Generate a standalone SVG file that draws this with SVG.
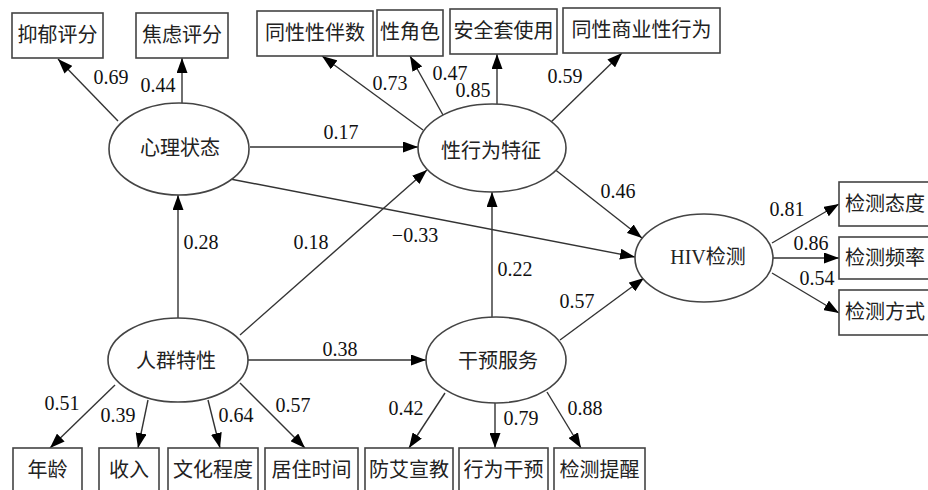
<svg xmlns="http://www.w3.org/2000/svg" width="928" height="490" viewBox="0 0 928 490">
<defs>
<marker id="ah" markerUnits="userSpaceOnUse" markerWidth="15" markerHeight="11" refX="15" refY="5.5" orient="auto">
<path d="M0,0 L15,5.5 L0,11 z" fill="#000"/>
</marker>
</defs>
<style>
.box{fill:#fff;stroke:#444;stroke-width:1.6}
.ell{fill:#fff;stroke:#444;stroke-width:1.6}
.t{font-family:"Noto Sans CJK SC","Liberation Serif",sans-serif;font-size:20px;fill:#222;text-anchor:middle}
.h{font-family:"Liberation Serif","Noto Sans CJK SC",serif;font-size:20px;fill:#222;text-anchor:middle}
.n{font-family:"Liberation Serif",serif;font-size:20px;fill:#111;text-anchor:middle}
.c line{stroke:#333;stroke-width:1.4;marker-end:url(#ah)}
</style>
<rect width="928" height="490" fill="#fff"/>
<g class="c" id="connectors">
<line x1="118" y1="121" x2="58" y2="59"/>
<line x1="182" y1="103" x2="182" y2="58"/>
<line x1="250" y1="147" x2="418" y2="147"/>
<line x1="225" y1="178" x2="635" y2="257"/>
<line x1="178" y1="318" x2="178" y2="195"/>
<line x1="240" y1="335" x2="427" y2="170"/>
<line x1="248" y1="360" x2="426" y2="360"/>
<line x1="492" y1="317" x2="492" y2="192"/>
<line x1="560" y1="340" x2="644" y2="278"/>
<line x1="553" y1="168" x2="642" y2="238"/>
<line x1="423" y1="130" x2="322" y2="56"/>
<line x1="443" y1="115" x2="410" y2="56"/>
<line x1="497" y1="104" x2="497" y2="54"/>
<line x1="548" y1="125" x2="622" y2="53"/>
<line x1="772" y1="243" x2="839" y2="204"/>
<line x1="773" y1="258" x2="839" y2="258"/>
<line x1="772" y1="273" x2="839" y2="313"/>
<line x1="115" y1="385" x2="50" y2="448"/>
<line x1="148" y1="400" x2="138" y2="448"/>
<line x1="208" y1="400" x2="220" y2="448"/>
<line x1="240" y1="383" x2="305" y2="448"/>
<line x1="445" y1="393" x2="409" y2="448"/>
<line x1="495" y1="403" x2="495" y2="448"/>
<line x1="547" y1="392" x2="581" y2="448"/>
</g>
<g id="labels">
<text class="n" x="111" y="84">0.69</text>
<text class="n" x="158" y="92">0.44</text>
<text class="n" x="390" y="90">0.73</text>
<text class="n" x="450" y="80">0.47</text>
<text class="n" x="473" y="97">0.85</text>
<text class="n" x="565" y="83">0.59</text>
<text class="n" x="341" y="139">0.17</text>
<text class="n" x="618" y="198">0.46</text>
<text class="n" x="787" y="216">0.81</text>
<text class="n" x="811" y="250">0.86</text>
<text class="n" x="817" y="285">0.54</text>
<text class="n" x="201" y="249">0.28</text>
<text class="n" x="311" y="249">0.18</text>
<text class="n" x="415" y="242">−0.33</text>
<text class="n" x="515" y="276">0.22</text>
<text class="n" x="577" y="308">0.57</text>
<text class="n" x="340" y="356">0.38</text>
<text class="n" x="62" y="410">0.51</text>
<text class="n" x="118" y="422">0.39</text>
<text class="n" x="236" y="422">0.64</text>
<text class="n" x="293" y="412">0.57</text>
<text class="n" x="406" y="415">0.42</text>
<text class="n" x="521" y="425">0.79</text>
<text class="n" x="585" y="415">0.88</text>
</g>
<g id="n-yiyu"><rect class="box" x="12" y="13" width="91" height="45"/><text class="t" x="57.5" y="42">抑郁评分</text></g>
<g id="n-jiaolv"><rect class="box" x="136" y="13" width="92" height="45"/><text class="t" x="182" y="42">焦虑评分</text></g>
<g id="n-xingban"><rect class="box" x="257" y="11" width="116" height="45"/><text class="t" x="315" y="40">同性性伴数</text></g>
<g id="n-juese"><rect class="box" x="377" y="10" width="66" height="46"/><text class="t" x="410" y="39">性角色</text></g>
<g id="n-anquantao"><rect class="box" x="450" y="9" width="107" height="45"/><text class="t" x="503.5" y="38">安全套使用</text></g>
<g id="n-shangye"><rect class="box" x="563" y="8" width="157" height="45"/><text class="t" x="641.5" y="37">同性商业性行为</text></g>
<g id="n-xinli"><ellipse class="ell" cx="179" cy="149" rx="70" ry="46"/><text class="t" x="180" y="155">心理状态</text></g>
<g id="n-xingwei"><ellipse class="ell" cx="492" cy="148" rx="74" ry="44"/><text class="t" x="491" y="158">性行为特征</text></g>
<g id="n-hiv"><ellipse class="ell" cx="704" cy="258" rx="69" ry="44"/><text class="h" x="708" y="264">HIV<tspan font-family="Noto Sans CJK SC" font-size="20">检测</tspan></text></g>
<g id="n-renqun"><ellipse class="ell" cx="178" cy="360" rx="70" ry="42"/><text class="t" x="176" y="368">人群特性</text></g>
<g id="n-ganyu"><ellipse class="ell" cx="496" cy="360" rx="70" ry="43"/><text class="t" x="498" y="368">干预服务</text></g>
<g id="n-taidu"><rect class="box" x="839" y="182" width="95" height="44"/><text class="t" x="885" y="211">检测态度</text></g>
<g id="n-pinlv"><rect class="box" x="839" y="237" width="95" height="42"/><text class="t" x="885" y="265">检测频率</text></g>
<g id="n-fangshi"><rect class="box" x="839" y="290" width="95" height="45"/><text class="t" x="885" y="319">检测方式</text></g>
<g id="n-nianling"><rect class="box" x="13" y="448" width="69" height="50"/><text class="t" x="47.5" y="477">年龄</text></g>
<g id="n-shouru"><rect class="box" x="99" y="448" width="60" height="50"/><text class="t" x="129" y="477">收入</text></g>
<g id="n-wenhua"><rect class="box" x="168" y="448" width="90" height="50"/><text class="t" x="213" y="477">文化程度</text></g>
<g id="n-juzhu"><rect class="box" x="265" y="448" width="93" height="50"/><text class="t" x="311.5" y="477">居住时间</text></g>
<g id="n-fangai"><rect class="box" x="365" y="448" width="88" height="50"/><text class="t" x="409" y="477">防艾宣教</text></g>
<g id="n-xingweiganyu"><rect class="box" x="459" y="448" width="89" height="50"/><text class="t" x="503.5" y="477">行为干预</text></g>
<g id="n-tixing"><rect class="box" x="554" y="448" width="91" height="50"/><text class="t" x="599.5" y="477">检测提醒</text></g>
</svg>
